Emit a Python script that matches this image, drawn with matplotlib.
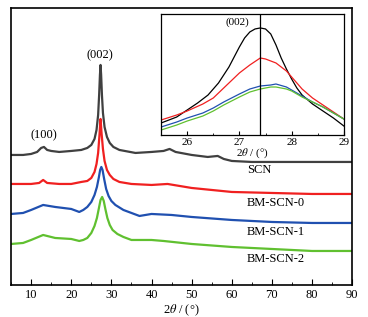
import matplotlib
matplotlib.use("Agg")
import matplotlib.pyplot as plt
from matplotlib.ticker import MultipleLocator

plt.rcParams['font.family'] = ['Liberation Serif', 'DejaVu Serif']
plt.rcParams['mathtext.fontset'] = 'stix'

# main pattern (2theta in deg, intensity in a.u., offsets included)
scn_x = [5, 8, 10, 11.5, 12.5, 13.2, 14, 15, 17, 20, 22.5, 24.0, 25.0, 25.8, 26.3, 26.7, 26.95,
         27.15, 27.3, 27.45, 27.65, 27.9, 28.3, 28.9, 29.6, 30.5, 32, 36, 40, 43, 44.5, 46, 50,
         54, 56.5, 58, 60, 65, 70, 80, 90]
scn_y = [130, 130, 131, 133, 137, 138, 135, 134, 133, 134, 135, 137, 140, 146, 155, 170, 190,
         210, 220, 210, 190, 172, 158, 148, 142, 138, 135, 132, 133, 134, 136, 133, 130,
         128, 129, 126, 124, 123, 123, 123, 123]

bm0_x = [5, 10, 12, 13, 14, 17, 20, 22.5, 24, 25, 25.8, 26.3, 26.7, 27.0, 27.3, 27.55, 27.9,
         28.3, 28.9, 29.6, 30.5, 32, 35, 40, 44, 47, 50, 55, 60, 70, 80, 90]
bm0_y = [101, 101, 102, 105, 102, 101, 101, 103, 104, 107, 113, 121, 132, 148, 166, 152, 136,
         124, 115, 110, 106, 103, 101, 100, 101, 99, 97, 95, 93, 92, 91, 91]

bm1_x = [5, 8, 10, 13, 16, 20, 22, 23, 24, 25, 25.8, 26.4, 26.9, 27.2, 27.5, 27.8, 28.2, 28.7,
         29.3, 30, 31, 33, 35, 37, 40, 45, 50, 60, 70, 80, 90]
bm1_y = [71, 72, 75, 80, 78, 76, 73, 75, 78, 83, 90, 98, 108, 115, 118, 115, 106, 96,
         89, 84, 80, 75, 72, 69, 71, 70, 68, 65, 63, 62, 62]

bm2_x = [5, 8, 10, 13, 16, 20, 22, 23, 24, 25, 25.8, 26.4, 26.9, 27.3, 27.7, 28.1, 28.5, 29,
         29.6, 30.3, 31.5, 33, 35, 40, 43, 50, 60, 70, 80, 90]
bm2_y = [41, 42, 45, 50, 47, 46, 44, 45, 47, 52, 59, 67, 77, 85, 88, 84, 76, 67,
         60, 55, 51, 48, 45, 45, 44, 41, 38, 36, 34, 34]

# inset, zoom on (002)
in_x_k = [25.5, 25.8, 26.0, 26.2, 26.4, 26.6, 26.8, 27.0, 27.1, 27.2, 27.3, 27.4, 27.5, 27.6,
          27.7, 27.8, 27.9, 28.0, 28.1, 28.2, 28.4, 28.6, 28.8, 29.0]
in_y_k = [12, 18, 25, 32, 40, 52, 68, 88, 97, 103, 106, 107, 106, 101,
          90, 77, 66, 56, 47, 40, 31, 24, 17, 9]
in_x_r = [25.5, 25.8, 26.0, 26.3, 26.5, 26.7, 26.9, 27.0, 27.2, 27.4, 27.5, 27.7, 27.9, 28.0,
          28.2, 28.4, 28.6, 28.8, 29.0]
in_y_r = [15, 20, 24, 31, 37, 47, 57, 62, 70, 77, 76, 72, 64, 58,
          46, 37, 30, 23, 16]
in_x_b = [25.5, 25.8, 26.0, 26.3, 26.5, 26.7, 27.0, 27.2, 27.4, 27.6, 27.7, 27.9, 28.0, 28.2,
          28.4, 28.6, 28.8, 29.0]
in_y_b = [8, 13, 17, 22, 27, 33, 41, 46, 49, 50, 51, 48, 45, 39,
          33, 28, 22, 16]
in_x_g = [25.5, 25.8, 26.0, 26.3, 26.5, 26.7, 27.0, 27.2, 27.4, 27.6, 27.7, 27.9, 28.0, 28.2,
          28.4, 28.6, 28.8, 29.0]
in_y_g = [5, 10, 14, 19, 24, 30, 38, 43, 46, 48, 48, 46, 44, 38,
          33, 28, 22, 16]

c_scn = '#404040'
c_red = '#f02020'
c_blue = '#2050b0'
c_green = '#60c030'

fig = plt.figure(figsize=(3.68, 3.17), dpi=100)
ax = fig.add_axes([0.030, 0.101, 0.927, 0.874])

ax.plot(scn_x, scn_y, color=c_scn, lw=1.6)
ax.plot(bm0_x, bm0_y, color=c_red, lw=1.6)
ax.plot(bm1_x, bm1_y, color=c_blue, lw=1.6)
ax.plot(bm2_x, bm2_y, color=c_green, lw=1.6)

ax.text(63.8, 115, 'SCN', fontsize=9, va='center')
ax.text(63.8, 82, 'BM-SCN-0', fontsize=9, va='center')
ax.text(63.8, 53, 'BM-SCN-1', fontsize=9, va='center')
ax.text(63.8, 26, 'BM-SCN-2', fontsize=9, va='center')
ax.text(27.2, 230, '(002)', fontsize=9, ha='center', va='center')
ax.text(13.2, 150, '(100)', fontsize=9, ha='center', va='center')

ax.set_xlim(5, 90)
ax.set_ylim(0, 277)
ax.set_yticks([])
ax.xaxis.set_major_locator(MultipleLocator(10))
ax.xaxis.set_minor_locator(MultipleLocator(5))
ax.tick_params(axis='x', which='both', direction='in', labelsize=9, pad=3)
ax.tick_params(axis='x', which='major', length=4)
ax.tick_params(axis='x', which='minor', length=2)
ax.set_xlabel(r'2$\theta$ / (°)', fontsize=9, labelpad=1)
for s in ax.spines.values():
    s.set_linewidth(1.2)

ins = fig.add_axes([0.4375, 0.574, 0.497, 0.382])
ins.plot(in_x_k, in_y_k, color='black', lw=0.9)
ins.plot(in_x_r, in_y_r, color=c_red, lw=0.9)
ins.plot(in_x_b, in_y_b, color=c_blue, lw=0.9)
ins.plot(in_x_g, in_y_g, color=c_green, lw=0.9)
ins.axvline(27.4, color='black', lw=0.9)
ins.text(26.96, 113, '(002)', fontsize=8, ha='center', va='center')
ins.set_xlim(25.5, 29)
ins.set_ylim(0, 121)
ins.set_yticks([])
ins.xaxis.set_major_locator(MultipleLocator(1))
ins.xaxis.set_minor_locator(MultipleLocator(0.5))
ins.tick_params(axis='x', which='both', direction='in', labelsize=8, pad=2)
ins.tick_params(axis='x', which='major', length=3)
ins.tick_params(axis='x', which='minor', length=1.5)
ins.set_xlabel(r'2$\theta$ / (°)', fontsize=8, labelpad=0)
for s in ins.spines.values():
    s.set_linewidth(0.9)

fig.savefig('out.png', dpi=100)
